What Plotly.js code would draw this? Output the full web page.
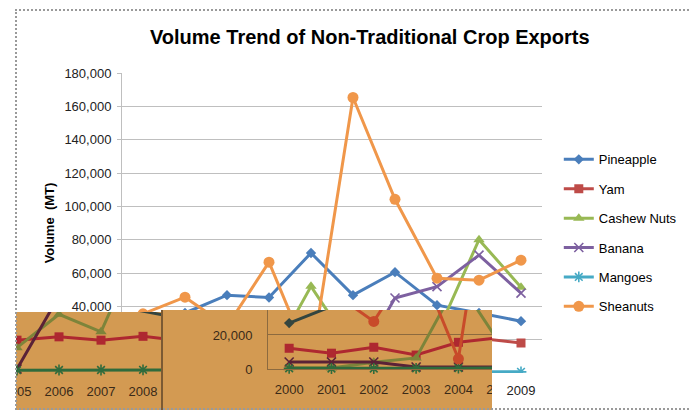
<!DOCTYPE html>
<html>
<head>
<meta charset="utf-8">
<script src="https://cdn.plot.ly/plotly-3.0.1.min.js"></script>
<style>
  html, body { margin: 0; padding: 0; background: #ffffff; }
  #wrap { position: relative; width: 691px; height: 410px; overflow: hidden; background: #ffffff; }
  #main { position: absolute; left: 0; top: 0; width: 691px; height: 410px; }
  #ov1box { position: absolute; left: 16px; top: 312px; width: 146px; height: 98px; overflow: hidden; background: #D39A52; }
  #ov2box { position: absolute; left: 162px; top: 310px; width: 330px; height: 100px; overflow: hidden; background: #D39A52; }
  #ov2edge { position: absolute; left: 161px; top: 310px; width: 2px; height: 100px; background: #7B5A33; }
  #ov1, #ov2 { position: absolute; left: 0; top: 0; }
  #frame { position: absolute; left: 15px; top: 9px; width: 700px; height: 397px;
           border-left: 2px dotted #9a9a9a; border-top: 2px dotted #9a9a9a; border-bottom: 2px dotted #9a9a9a;
           pointer-events: none; }
</style>
</head>
<body>
<div id="wrap">
  <div id="main"></div>
  <div id="ov1box"><div id="ov1"></div></div>
  <div id="ov2box"><div id="ov2"></div></div>
  <div id="ov2edge"></div>
  <div id="frame"></div>
</div>
<script>
// ---------- data ----------
const years = ['2000','2001','2002','2003','2004','2005','2006','2007','2008','2009'];
const seriesNames = ['Pineapple','Yam','Cashew Nuts','Banana','Mangoes','Sheanuts'];
const pineapple = [27000, 36000, 46700, 45300, 72000, 46700, 60500, 40700, 36000, 31100];
const yam       = [12200,  9300, 12800,  8200, 15700, 18500, 20500, 18500, 20800, 18000];
const cashew    = [  700,   600,  4000,  6500, 52000, 14000, 34000, 23500, 80000, 51500];
const banana    = [ 4100,  4100,  4100,  1200,  1200,  1200, 45000, 51800, 70700, 47900];
const mangoes   = [  400,   300,   300,   400,   500,   500,   600,   600,   700,   700];
const sheanuts  = [35500, 45500, 28000, 66500,  6000,165300,104200, 56900, 55700, 67700];
const allSeries = [pineapple, yam, cashew, banana, mangoes, sheanuts];

// tick values of the main chart; labels hidden under the pasted crops are left blank
const mainYTicks = [0, 20000, 40000, 60000, 80000, 100000, 120000, 140000, 160000, 180000];
const mainYText  = ['', '', '40,000', '60,000', '80,000', '100,000', '120,000', '140,000', '160,000', '180,000'];
const mainXText  = ['', '', '', '', '', '', '', '', '', '2009'];

// ---------- styles ----------
const mainColors  = ['#4A7EBB','#BE4B48','#98B954','#7D60A0','#46AAC5','#F0974A'];
const sepiaColors = ['#34453F','#AE2830','#7D843A','#5A2237','#2F6B3C','#C84B2A'];
const symbols     = ['diamond','square','triangle-up','x-thin-open','asterisk-open','circle'];
const sizes       = [8, 9, 10, 9, 9, 11];

function makeTraces(colors, legend) {
  return allSeries.map((vals, i) => ({
    type: 'scatter', mode: 'lines+markers',
    name: seriesNames[i], x: years, y: vals,
    legendgroup: 'g' + i, showlegend: legend,
    cliponaxis: legend,
    line: { color: colors[i], width: 3 },
    marker: { symbol: symbols[i], size: sizes[i], color: colors[i],
              line: { color: colors[i], width: (symbols[i].indexOf('open') >= 0) ? 1.6 : 0 } },
    hoverinfo: 'skip'
  }));
}

const baseFont = 'Liberation Sans, Arial, sans-serif';

// ---------- main chart ----------
Plotly.newPlot('main', makeTraces(mainColors, true), {
  width: 691, height: 410,
  margin: { l: 122, r: 149, t: 73, b: 37, pad: 0, autoexpand: false },
  paper_bgcolor: 'rgba(0,0,0,0)', plot_bgcolor: '#ffffff',
  font: { family: baseFont, size: 13, color: '#222' },
  title: { text: '<b>Volume Trend of Non-Traditional Crop Exports</b>',
           font: { family: baseFont, size: 20, color: '#000' },
           x: 0.59, xanchor: 'center', xref: 'paper', y: 0.91, yanchor: 'middle', yref: 'container' },
  xaxis: { type: 'category', range: [-0.5, 9.5], showgrid: false, zeroline: false, showline: false,
           tickmode: 'array', tickvals: years, ticktext: mainXText,
           ticks: '', ticklabelstandoff: 8, tickfont: { size: 13, color: '#222' } },
  yaxis: { range: [0, 180000], tickmode: 'array', tickvals: mainYTicks, ticktext: mainYText,
           showgrid: true, gridcolor: '#BFBFBF', gridwidth: 1, zeroline: false,
           showline: true, linecolor: '#BFBFBF', linewidth: 1,
           ticks: 'outside', ticklen: 4, tickcolor: '#BFBFBF', ticklabelstandoff: 3,
           tickfont: { size: 13, color: '#222' },
           title: { text: '<b>Volume\u00a0 (MT)</b>', font: { size: 13, color: '#000' }, standoff: 6 } },
  legend: { x: 1.04, xanchor: 'left', y: 0.762, yanchor: 'top',
            font: { size: 13, color: '#000' }, tracegroupgap: 9.5, bgcolor: 'rgba(0,0,0,0)' },
  showlegend: true
}, { staticPlot: true });

// ---------- overlay 1 (tinted crop, years 2005-2008) ----------
Plotly.newPlot('ov1', makeTraces(sepiaColors, false), {
  width: 146, height: 98,
  margin: { l: 0, r: 0, t: 0, b: 38, pad: 0, autoexpand: false },
  paper_bgcolor: 'rgba(0,0,0,0)', plot_bgcolor: 'rgba(0,0,0,0)',
  font: { family: baseFont, size: 13, color: '#3A2A18' },
  xaxis: { type: 'category', range: [4.976, 8.452], showgrid: false, zeroline: false, showline: false,
           ticks: '', ticklabelstandoff: 10, tickfont: { size: 13, color: '#3A2A18' } },
  yaxis: { range: [-600, 35400], showgrid: false, zeroline: false, showline: false, showticklabels: false },
  showlegend: false
}, { staticPlot: true });

// ---------- overlay 2 (tinted crop, years 2000-2004) ----------
Plotly.newPlot('ov2', makeTraces(sepiaColors, false), {
  width: 372, height: 100,
  margin: { l: 106, r: 0, t: 0, b: 41, pad: 0, autoexpand: false },
  paper_bgcolor: 'rgba(0,0,0,0)', plot_bgcolor: 'rgba(0,0,0,0)',
  font: { family: baseFont, size: 13, color: '#3A2A18' },
  xaxis: { type: 'category', range: [-0.5, 5.786], showgrid: false, zeroline: false,
           showline: true, linecolor: '#8C6A3F', linewidth: 1,
           ticks: '', ticklabelstandoff: 8, tickfont: { size: 13, color: '#3A2A18' } },
  yaxis: { range: [0, 34700], dtick: 20000, tickformat: ',d',
           showgrid: true, gridcolor: '#8C6A3F', gridwidth: 1, zeroline: false,
           showline: true, linecolor: '#8C6A3F', linewidth: 1,
           ticks: '', ticklabelstandoff: 12, tickfont: { size: 13, color: '#3A2A18' } },
  showlegend: false
}, { staticPlot: true });
</script>
</body>
</html>
